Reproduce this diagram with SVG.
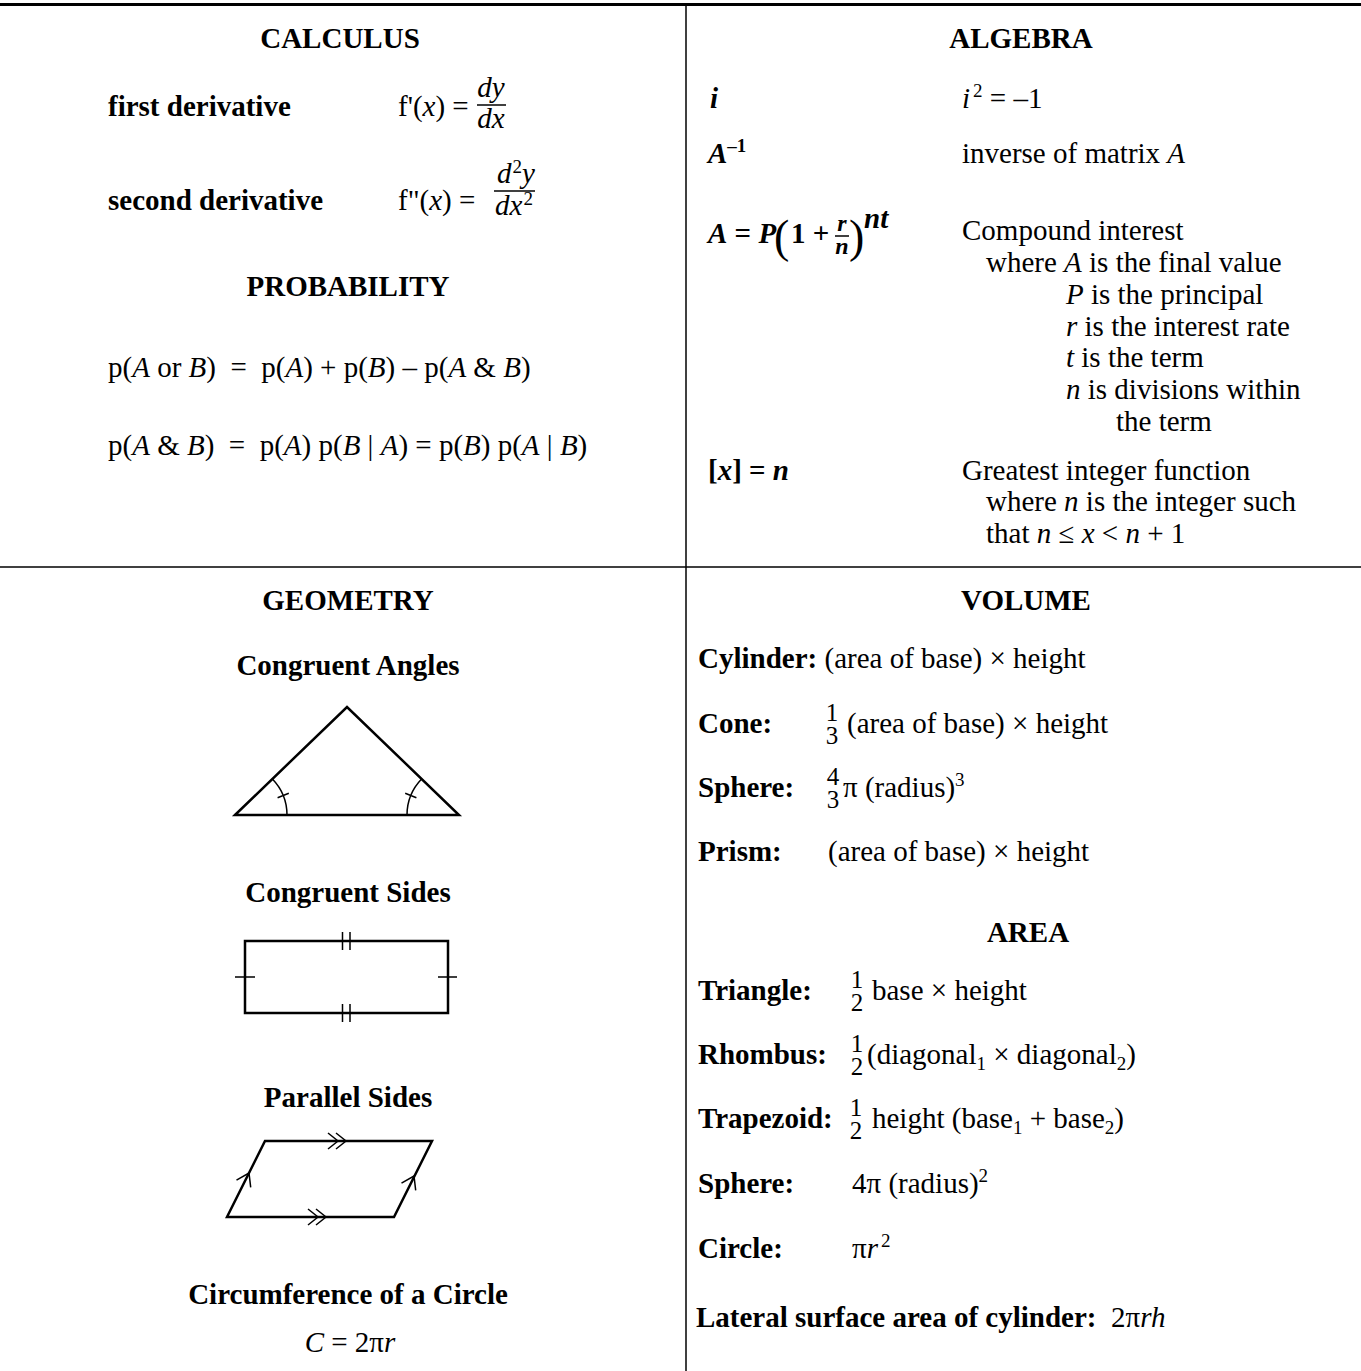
<svg xmlns="http://www.w3.org/2000/svg" width="1361" height="1371" viewBox="0 0 1361 1371">
<style>
text { font-family: "Liberation Serif", "Times New Roman", serif; font-size: 29px; fill: #000; }
.b { font-weight: bold; }
.i { font-style: italic; }
.c { text-anchor: middle; }
.fr { font-size: 25px; text-anchor: middle; }
.fb { font-size: 24px; text-anchor: middle; font-weight: bold; font-style: italic; }
.big { font-size: 46px; }
.rule { stroke: #000; stroke-width: 1.5; fill: none; }
.shape { fill: none; stroke: #000; stroke-width: 2.5; stroke-linejoin: miter; }
.tick { fill: none; stroke: #000; stroke-width: 1.5; }
</style>
<rect width="1361" height="1371" fill="#fff"/>

<g id="connectors">
  <line x1="0" y1="4.5" x2="1361" y2="4.5" stroke="#000" stroke-width="3"/>
  <line class="rule" x1="686" y1="4" x2="686" y2="1371"/>
  <line class="rule" x1="0" y1="567" x2="1361" y2="567"/>
</g>

<g id="calculus">
  <text class="b c" x="340" y="48">CALCULUS</text>
  <text class="b" x="108" y="116">first derivative</text>
  <text x="398" y="116">f'(<tspan class="i">x</tspan>) =</text>
  <text class="i c" x="491" y="97">dy</text>
  <line class="rule" x1="477" y1="105" x2="506" y2="105"/>
  <text class="i c" x="491" y="128">dx</text>
  <text class="b" x="108" y="210">second derivative</text>
  <text x="398" y="210">f"(<tspan class="i">x</tspan>) =</text>
  <text class="i" x="497" y="183">d<tspan font-size="19" dx="1" dy="-10" font-style="normal">2</tspan><tspan dy="10">y</tspan></text>
  <line class="rule" x1="494" y1="191" x2="535" y2="191"/>
  <text class="i" x="495" y="215">dx<tspan font-size="19" dx="1" dy="-10" font-style="normal">2</tspan></text>
</g>

<g id="probability">
  <text class="b c" x="348" y="296">PROBABILITY</text>
  <text x="108" y="377" xml:space="preserve">p(<tspan class="i">A</tspan> or <tspan class="i">B</tspan>)  =  p(<tspan class="i">A</tspan>) + p(<tspan class="i">B</tspan>) – p(<tspan class="i">A</tspan> &amp; <tspan class="i">B</tspan>)</text>
  <text x="108" y="455" xml:space="preserve">p(<tspan class="i">A</tspan> &amp; <tspan class="i">B</tspan>)  =  p(<tspan class="i">A</tspan>) p(<tspan class="i">B</tspan> | <tspan class="i">A</tspan>) = p(<tspan class="i">B</tspan>) p(<tspan class="i">A</tspan> | <tspan class="i">B</tspan>)</text>
</g>

<g id="algebra">
  <text class="b c" x="1021" y="48">ALGEBRA</text>
  <text class="b i" x="710" y="108">i</text>
  <text x="962" y="108"><tspan class="i">i</tspan><tspan font-size="19" dx="3" dy="-11">2</tspan><tspan dy="11"> = –1</tspan></text>
  <text class="b" x="708" y="163"><tspan class="i">A</tspan><tspan font-size="19" dy="-11">–1</tspan></text>
  <text x="962" y="163">inverse of matrix <tspan class="i">A</tspan></text>
  <text class="b" x="708" y="243"><tspan class="i">A</tspan> = <tspan class="i">P</tspan></text>
  <text class="big" x="774" y="252">(</text>
  <text class="b" x="791" y="243">1 +</text>
  <text class="fb" x="842" y="231">r</text>
  <line x1="835" y1="236" x2="849" y2="236" stroke="#000" stroke-width="1.5"/>
  <text class="fb" x="842" y="254">n</text>
  <text class="big" x="849" y="252">)</text>
  <text class="b i" x="864" y="228" font-size="22">nt</text>
  <text x="962" y="240">Compound interest</text>
  <text x="986" y="272">where <tspan class="i">A</tspan> is the final value</text>
  <text x="1066" y="304"><tspan class="i">P</tspan> is the principal</text>
  <text x="1066" y="336"><tspan class="i">r</tspan> is the interest rate</text>
  <text x="1066" y="367"><tspan class="i">t</tspan> is the term</text>
  <text x="1066" y="399"><tspan class="i">n</tspan> is divisions within</text>
  <text x="1116" y="431">the term</text>
  <text class="b" x="708" y="480">[<tspan class="i">x</tspan>] = <tspan class="i">n</tspan></text>
  <text x="962" y="480">Greatest integer function</text>
  <text x="986" y="511">where <tspan class="i">n</tspan> is the integer such</text>
  <text x="986" y="543">that <tspan class="i">n</tspan> ≤ <tspan class="i">x</tspan> &lt; <tspan class="i">n</tspan> + 1</text>
</g>

<g id="geometry">
  <text class="b c" x="348" y="610">GEOMETRY</text>
  <text class="b c" x="348" y="675">Congruent Angles</text>
  <polygon class="shape" points="235,815 347,707 459,815"/>
  <path class="tick" d="M287,815 A52,52 0 0 0 272.4,778.9 M277.6,797.8 L288.8,793.3"/>
  <path class="tick" d="M407,815 A52,52 0 0 1 421.6,778.9 M416.4,797.8 L405.2,793.3"/>
  <text class="b c" x="348" y="902">Congruent Sides</text>
  <rect class="shape" x="245" y="941" width="203" height="72"/>
  <path class="tick" d="M342.5,932 V950 M350,932 V950 M342.5,1004 V1022 M350,1004 V1022 M235,977 H255 M438,977 H457"/>
  <text class="b c" x="348" y="1107">Parallel Sides</text>
  <polygon class="shape" points="265,1141 432,1141 394,1217 227,1217"/>
  <path class="tick" d="M328,1133 L338,1141 L328,1149 M336,1133 L346,1141 L336,1149 M308,1209 L318,1217 L308,1225 M316,1209 L326,1217 L316,1225"/>
  <path class="tick" d="M236.5,1180.1 L249,1173 L250.7,1187.3 M401.5,1183.1 L414,1176 L415.7,1190.3"/>
  <text class="b c" x="348" y="1304">Circumference of a Circle</text>
  <text class="c" x="350" y="1352"><tspan class="i">C</tspan> = 2π<tspan class="i">r</tspan></text>
</g>

<g id="volume">
  <text class="b c" x="1026" y="610">VOLUME</text>
  <text x="698" y="668"><tspan class="b">Cylinder:</tspan> (area of base) × height</text>
  <text class="b" x="698" y="733">Cone:</text>
  <text class="fr" x="832" y="721">1</text>
  <text class="fr" x="832" y="744">3</text>
  <text x="847" y="733">(area of base) × height</text>
  <text class="b" x="698" y="797">Sphere:</text>
  <text class="fr" x="833" y="785">4</text>
  <text class="fr" x="833" y="808">3</text>
  <text x="843" y="797">π (radius)<tspan font-size="19" dy="-11">3</tspan></text>
  <text class="b" x="698" y="861">Prism:</text>
  <text x="828" y="861">(area of base) × height</text>
</g>

<g id="area">
  <text class="b c" x="1028" y="942">AREA</text>
  <text class="b" x="698" y="1000">Triangle:</text>
  <text class="fr" x="857" y="988">1</text>
  <text class="fr" x="857" y="1011">2</text>
  <text x="872" y="1000">base × height</text>
  <text class="b" x="698" y="1064">Rhombus:</text>
  <text class="fr" x="857" y="1052">1</text>
  <text class="fr" x="857" y="1075">2</text>
  <text x="867" y="1064">(diagonal<tspan font-size="19" dy="6">1</tspan><tspan dy="-6"> × diagonal</tspan><tspan font-size="19" dy="6">2</tspan><tspan dy="-6">)</tspan></text>
  <text class="b" x="698" y="1128">Trapezoid:</text>
  <text class="fr" x="856" y="1116">1</text>
  <text class="fr" x="856" y="1139">2</text>
  <text x="872" y="1128">height (base<tspan font-size="19" dy="6">1</tspan><tspan dy="-6"> + base</tspan><tspan font-size="19" dy="6">2</tspan><tspan dy="-6">)</tspan></text>
  <text class="b" x="698" y="1193">Sphere:</text>
  <text x="852" y="1193">4π (radius)<tspan font-size="19" dy="-11">2</tspan></text>
  <text class="b" x="698" y="1258">Circle:</text>
  <text x="852" y="1258">π<tspan class="i">r</tspan><tspan font-size="19" dx="3" dy="-11">2</tspan></text>
  <text x="696" y="1327" xml:space="preserve"><tspan class="b">Lateral surface area of cylinder:</tspan>  2π<tspan class="i">rh</tspan></text>
</g>
</svg>
